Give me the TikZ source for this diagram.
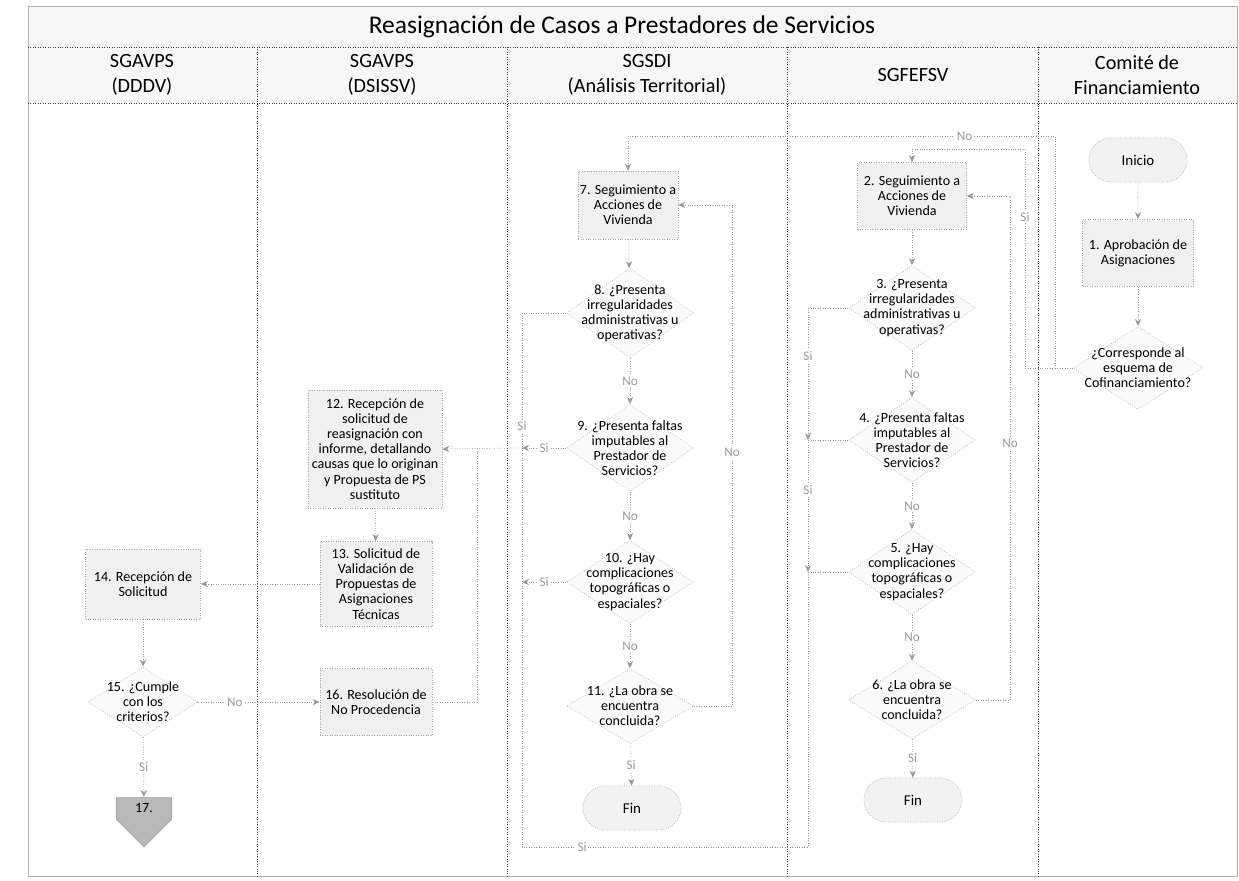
\documentclass[tikz,border=0pt]{standalone}
\usepackage{fontspec}
\setmainfont{Carlito}
\usetikzlibrary{shapes.geometric,shapes.misc,shapes.symbols,arrows.meta}
\tikzset{
  lane/.style={draw=black!75, densely dotted},
  hdr/.style={align=center, font=\fontsize{11.5}{14}\selectfont, inner sep=0pt},
  proc/.style={rectangle, draw=gray!70, densely dotted, fill=gray!12, align=center,
    font=\fontsize{8}{8.6}\selectfont, inner sep=1pt},
  decis/.style={diamond, draw=gray!60, densely dotted, fill=gray!4, inner sep=0pt,
    minimum width=2.54cm, minimum height=1.7cm},
  dtext/.style={align=center, font=\fontsize{8}{8.6}\selectfont, inner sep=0pt},
  term/.style={rounded rectangle, draw=gray!70, densely dotted, fill=gray!10,
    minimum width=2.2cm, minimum height=0.88cm, font=\fontsize{8.5}{10}\selectfont},
  offpg/.style={signal, signal to=south, signal from=nowhere, draw=gray!70, fill=gray!55,
    minimum width=1.1cm, minimum height=0.62cm, inner sep=0pt, font=\fontsize{8}{9}\selectfont},
  flow/.style={draw=gray!80, densely dotted, -{Stealth[length=4pt,width=3.5pt]}},
  conn/.style={draw=gray!80, densely dotted},
  lbl/.style={fill=white, inner sep=1pt, text=gray!80, font=\fontsize{7.5}{8}\selectfont},
}

\begin{document}
\begin{tikzpicture}[x=0.02cm, y=-0.02cm]
\useasboundingbox (0,0) rectangle (1239,881);

% frame and lanes
\fill[gray!6] (28,6) rectangle (1237,103);
\draw[gray!60] (28,6) rectangle (1237,876);
\draw[lane] (28,47) -- (1237,47);
\draw[lane] (28,103) -- (1237,103);
\foreach \x in {257,507,787,1038}
  \draw[lane] (\x,47) -- (\x,876);

\node[font=\fontsize{14.5}{17}\selectfont] (title) at (622,27) {Reasignación de Casos a Prestadores de Servicios};
\node[hdr] (h1) at (142,75) {SGAVPS\\(DDDV)};
\node[hdr] (h2) at (382,75) {SGAVPS\\(DSISSV)};
\node[hdr] (h3) at (647,75) {SGSDI\\(Análisis Territorial)};
\node[hdr] (h4) at (913,75) {SGFEFSV};
\node[hdr] (h5) at (1137,75) {Comité de\\Financiamiento};

% Comite de Financiamiento
\node[term] (inicio) at (1138,160) {Inicio};
\node[proc, minimum width=2.22cm, minimum height=1.34cm] (a1) at (1138,253) {1. Aprobación de\\Asignaciones};
\node[decis, minimum width=2.6cm, minimum height=1.66cm,
  label={[dtext]center:{¿Corresponde al\\esquema de\\Cofinanciamiento?}}] (dc) at (1138,368) {};

% SGFEFSV
\node[proc, minimum width=2.18cm, minimum height=1.34cm] (s2) at (912,196) {2. Seguimiento a\\Acciones de\\Vivienda};
\node[decis, label={[dtext]center:{3. ¿Presenta\\irregularidades\\administrativas u\\operativas?}}] (d3) at (912,308) {};
\node[decis, label={[dtext]center:{4. ¿Presenta faltas\\imputables al\\Prestador de\\Servicios?}}] (d4) at (912,440) {};
\node[decis, label={[dtext]center:{5. ¿Hay\\complicaciones\\topográficas o\\espaciales?}}] (d5) at (912,572) {};
\node[decis, minimum height=1.56cm, label={[dtext]center:{6. ¿La obra se\\encuentra\\concluida?}}] (d6) at (912,700) {};
\node[term] (fin2) at (913,800) {Fin};

% SGSDI
\node[proc, minimum width=1.94cm, minimum height=1.36cm] (s7) at (628,205) {7. Seguimiento a\\Acciones de\\Vivienda};
\node[decis, minimum height=1.8cm, label={[dtext]center:{8. ¿Presenta\\irregularidades\\administrativas u\\operativas?}}] (d8) at (630,313) {};
\node[decis, minimum height=1.74cm, label={[dtext]center:{9. ¿Presenta faltas\\imputables al\\Prestador de\\Servicios?}}] (d9) at (630,448) {};
\node[decis, minimum height=1.66cm, label={[dtext]center:{10. ¿Hay\\complicaciones\\topográficas o\\espaciales?}}] (d10) at (630,582) {};
\node[decis, minimum height=1.5cm, label={[dtext]center:{11. ¿La obra se\\encuentra\\concluida?}}] (d11) at (630,706) {};
\node[term] (fin1) at (632,808) {Fin};

% SGAVPS (DSISSV)
\node[proc, minimum width=2.68cm, minimum height=2.36cm] (r12) at (375,449) {12. Recepción de\\solicitud de\\reasignación con\\informe, detallando\\causas que lo originan\\y Propuesta de PS\\sustituto};
\node[proc, minimum width=2.24cm, minimum height=1.7cm] (r13) at (376,584) {13. Solicitud de\\Validación de\\Propuestas de\\Asignaciones\\Técnicas};
\node[proc, minimum width=2.24cm, minimum height=1.34cm] (r16) at (376,702) {16. Resolución de\\No Procedencia};

% SGAVPS (DDDV)
\node[proc, minimum width=2.3cm, minimum height=1.4cm] (r14) at (143,584) {14. Recepción de\\Solicitud};
\node[decis, minimum width=2.2cm, minimum height=1.4cm,
  label={[dtext]center:{15. ¿Cumple\\con los\\criterios?}}] (d15) at (143,702) {};
\node[offpg, anchor=north] (p17) at (144,797) {17.};

% corners of the loops
\coordinate (noA) at (1055,136);
\coordinate (siA) at (1025,149);
\coordinate (fb2) at (1010,196);
\coordinate (fb1) at (732,205);
\coordinate (j1) at (808,440);
\coordinate (j2) at (808,572);
\coordinate (j3) at (808,847);
\coordinate (j4) at (522,847);
\coordinate (j5) at (522,448);
\coordinate (j6) at (477,448);

\draw[flow] (inicio) -- (a1);
\draw[flow] (a1) -- (dc);
\draw[flow] (dc.west) -| node[lbl, pos=0.845] {Si} (siA) -| (s2.north);
\draw[flow] (dc.west) -| (noA) -| node[lbl, pos=0.106] {No} (s7.north);

\draw[flow] (s2) -- (d3);
\draw[flow] (d3) -- node[lbl] {No} (d4);
\draw[flow] (d4) -- node[lbl] {No} (d5);
\draw[flow] (d5) -- node[lbl] {No} (d6);
\draw[flow] (d6) -- node[lbl] {Si} (fin2);
\draw[flow] (d6.east) -| node[lbl, pos=0.755] {No} (fb2) -- (s2.east);

\draw[flow] (s7) -- (d8);
\draw[flow] (d8) -- node[lbl] {No} (d9);
\draw[flow] (d9) -- node[lbl] {No} (d10);
\draw[flow] (d10) -- node[lbl] {No} (d11);
\draw[flow] (d11) -- node[lbl] {Si} (fin1);
\draw[flow] (d11.east) -| node[lbl, pos=0.753] {No} (fb1) -- (s7.east);

% Si branches to 12
\draw[flow] (d3.west) -| node[lbl, pos=0.68] {Si} (j1);
\draw[conn] (d4.west) -- (j1);
\draw[flow] (j1) -- node[lbl, pos=0.38] {Si} (j2);
\draw[conn] (d5.west) -- (j2);
\draw[conn] (j2) -- (j3) -- node[lbl, pos=0.79] {Si} (j4) -- (j5);
\draw[conn] (d8.west) -| node[lbl, pos=0.92] {Si} (j5);
\draw[flow] (d9.west) -- node[lbl] {Si} (j5);
\draw[flow] (d10.west) -- node[lbl] {Si} (d10.west -| j5);
\draw[flow] (j5) -- (r12.east);
\draw[conn] (r16.east) -| (j6);

\draw[flow] (r12) -- (r13);
\draw[flow] (r13.west) -- (r14.east);
\draw[flow] (r14) -- (d15);
\draw[flow] (d15.east) -- node[lbl, pos=0.3] {No} (r16.west);
\draw[flow] (d15) -- node[lbl] {Si} (p17);

\end{tikzpicture}
\end{document}
